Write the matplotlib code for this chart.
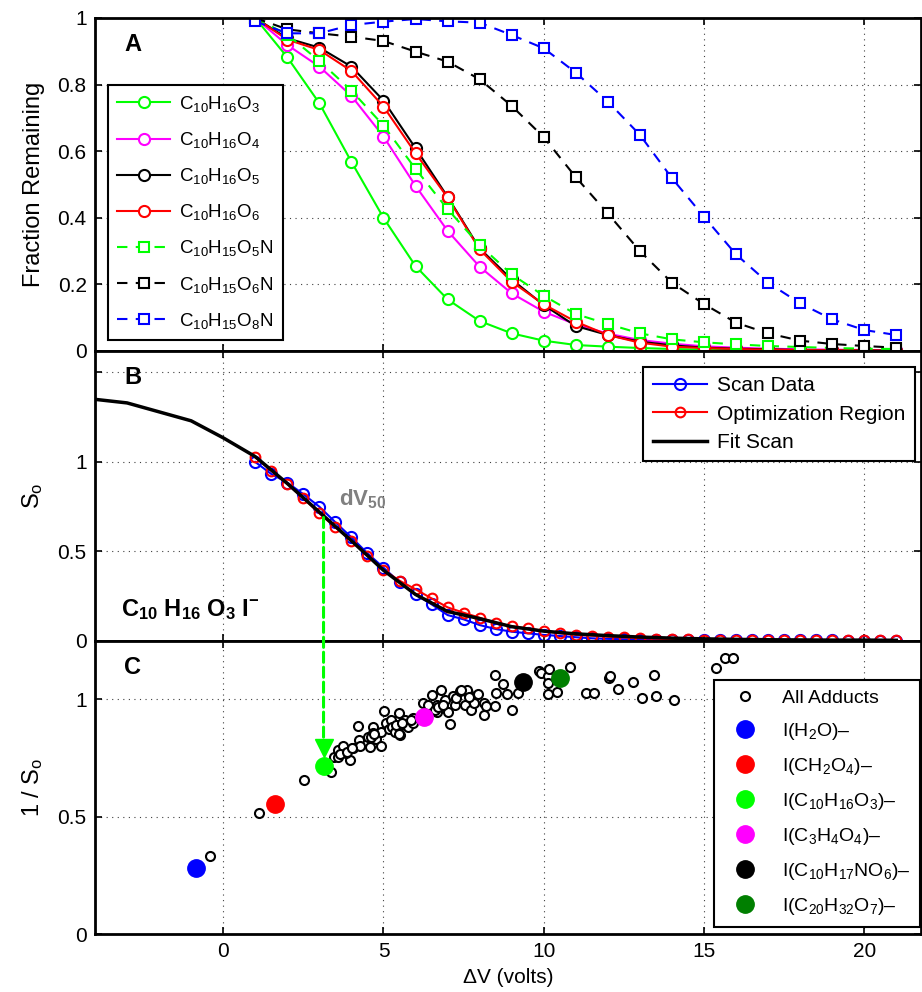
import matplotlib
matplotlib.use('Agg')
import matplotlib.pyplot as plt
from matplotlib.patches import ConnectionPatch

plt.rcParams['font.family'] = ['Liberation Sans', 'DejaVu Sans']
plt.rcParams['mathtext.fontset'] = 'custom'
plt.rcParams['mathtext.rm'] = 'Liberation Sans'
plt.rcParams['mathtext.it'] = 'Liberation Sans:italic'
plt.rcParams['mathtext.bf'] = 'Liberation Sans:bold'

# ---------------- data ----------------
# panel A: fraction remaining vs delta V
dv_a = list(range(1, 22))
c10h16o3 = [1.0, 0.882, 0.744, 0.568, 0.400, 0.255, 0.155, 0.090, 0.053, 0.031, 0.018,
            0.013, 0.009, 0.006, 0.004, 0.003, 0.002, 0.002, 0.001, 0.001, 0.001]
c10h16o4 = [1.0, 0.919, 0.854, 0.766, 0.644, 0.496, 0.361, 0.253, 0.173, 0.118, 0.080,
            0.052, 0.033, 0.022, 0.014, 0.010, 0.007, 0.005, 0.004, 0.003, 0.002]
c10h16o5 = [1.0, 0.939, 0.911, 0.854, 0.752, 0.609, 0.463, 0.308, 0.215, 0.138, 0.075,
            0.048, 0.028, 0.017, 0.010, 0.007, 0.005, 0.003, 0.002, 0.002, 0.001]
c10h16o6 = [1.0, 0.935, 0.904, 0.841, 0.734, 0.594, 0.461, 0.305, 0.208, 0.140, 0.088,
            0.048, 0.025, 0.013, 0.009, 0.006, 0.004, 0.003, 0.002, 0.002, 0.001]
c10h15o5n = [1.0, 0.950, 0.871, 0.782, 0.677, 0.547, 0.426, 0.318, 0.230, 0.166, 0.111,
             0.081, 0.053, 0.035, 0.026, 0.020, 0.015, 0.012, 0.009, 0.007, 0.006]
c10h15o6n = [1.0, 0.966, 0.954, 0.944, 0.931, 0.899, 0.869, 0.816, 0.736, 0.642, 0.522,
             0.413, 0.300, 0.205, 0.141, 0.085, 0.053, 0.031, 0.021, 0.015, 0.010]
c10h15o8n = [0.990, 0.954, 0.954, 0.979, 0.989, 0.997, 0.990, 0.986, 0.949, 0.909, 0.836,
             0.749, 0.649, 0.519, 0.403, 0.290, 0.205, 0.143, 0.095, 0.063, 0.048]

# panel B: scan of C10H16O3 I-
dv_b = [1 + 0.5 * i for i in range(41)]
scan_data = [1.0, 0.933, 0.885, 0.82, 0.75, 0.663, 0.579, 0.49, 0.41, 0.328, 0.26, 0.205,
             0.145, 0.121, 0.089, 0.067, 0.052, 0.043, 0.034, 0.028, 0.021, 0.015, 0.012,
             0.010, 0.008, 0.007, 0.006, 0.005, 0.005, 0.004, 0.004, 0.004, 0.003, 0.003,
             0.003, 0.003, 0.003, 0.002, 0.002, 0.002, 0.002]
opt_region = [1.026, 0.951, 0.877, 0.797, 0.713, 0.635, 0.559, 0.475, 0.397, 0.337, 0.289,
              0.238, 0.188, 0.158, 0.130, 0.102, 0.082, 0.071, 0.056, 0.043, 0.034, 0.030,
              0.024, 0.020, 0.016, 0.013, 0.011, 0.009, 0.008, 0.007, 0.006, 0.006, 0.005,
              0.005, 0.005, 0.004, 0.004, 0.004, 0.004, 0.004, 0.004]
dv_fit = list(range(-4, 22))
fit_scan = [1.35, 1.33, 1.28, 1.23, 1.135, 1.03, 0.88, 0.72, 0.56, 0.395, 0.26, 0.165,
            0.125, 0.08, 0.055, 0.04, 0.03, 0.022, 0.016, 0.012, 0.009, 0.007, 0.006,
            0.005, 0.005, 0.004]

# panel C: 1/So vs dV50 for all adducts
adduct_dv = [-0.40, 1.13, 2.52, 3.37, 3.47, 3.58, 3.73, 3.97, 3.84, 4.05, 4.20, 4.25, 4.27,
             4.57, 4.51, 4.67, 4.68, 4.77, 4.91, 4.93, 5.03, 5.09, 5.16, 5.24, 5.27, 5.35,
             5.47, 5.50, 5.55, 5.66, 5.74, 5.77, 5.92, 5.93, 6.23, 6.39, 6.51, 6.68, 6.68,
             6.80, 6.93, 7.01, 7.09, 7.16, 7.24, 7.25, 7.40, 7.53, 7.65, 7.72, 7.60, 7.82,
             7.95, 8.13, 8.15, 8.19, 8.47, 8.47, 8.52, 8.73, 8.86, 9.01, 9.19, 9.85, 9.90,
             10.13, 10.16, 10.13, 10.42, 3.58, 3.63, 3.86, 4.01, 4.62, 4.69, 5.38, 5.48,
             5.58, 5.87, 6.61, 6.70, 6.86, 7.43, 7.67, 10.13, 10.83, 11.33, 11.57, 12.03,
             12.07, 12.31, 12.78, 13.06, 13.43, 13.49, 14.05, 15.38, 15.67, 15.92]
adduct_inv = [0.332, 0.516, 0.654, 0.691, 0.755, 0.783, 0.800, 0.740, 0.769, 0.790, 0.885,
              0.826, 0.800, 0.797, 0.840, 0.882, 0.855, 0.832, 0.800, 0.861, 0.949, 0.896,
              0.871, 0.911, 0.880, 0.861, 0.939, 0.847, 0.889, 0.911, 0.889, 0.880, 0.899,
              0.920, 0.985, 0.974, 1.017, 0.946, 0.974, 1.038, 0.996, 0.946, 0.894, 1.013,
              0.974, 1.003, 1.035, 0.974, 1.024, 0.953, 1.040, 0.984, 1.020, 0.984, 0.932,
              0.970, 0.970, 1.102, 1.027, 1.066, 1.021, 0.953, 1.024, 1.120, 1.110, 1.100,
              1.126, 1.021, 1.031, 0.755, 0.768, 0.776, 0.793, 0.840, 0.851, 0.889, 0.851,
              0.899, 0.911, 0.953, 0.967, 0.974, 1.038, 1.010, 1.070, 1.135, 1.024, 1.024,
              1.088, 1.100, 1.041, 1.074, 1.003, 1.102, 1.013, 0.996, 1.133, 1.176, 1.173]
named_labels = ['I(H$_2$O)\u2013', 'I(CH$_2$O$_4$)\u2013', 'I(C$_{10}$H$_{16}$O$_3$)\u2013',
                'I(C$_3$H$_4$O$_4$)\u2013', 'I(C$_{10}$H$_{17}$NO$_6$)\u2013',
                'I(C$_{20}$H$_{32}$O$_7$)\u2013']
named_dv = [-0.86, 1.63, 3.13, 6.26, 9.35, 10.52]
named_inv = [0.282, 0.553, 0.716, 0.925, 1.071, 1.091]
named_colors = ['#0000FF', '#FF0000', '#00FF00', '#FF00FF', '#000000', '#007F00']

# ---------------- figure ----------------
fig = plt.figure(figsize=(9.22, 9.92), dpi=100)
left, width = 95 / 922, 826 / 922
ax_a = fig.add_axes([left, 1 - 351 / 992, width, 333 / 992])
ax_b = fig.add_axes([left, 1 - 641 / 992, width, 290 / 992])
ax_c = fig.add_axes([left, 1 - 934 / 992, width, 293 / 992])

grid_kw = dict(color='0.25', linestyle=(0, (1, 4)), linewidth=0.8)
for ax in (ax_a, ax_b, ax_c):
    ax.set_xlim(-4, 21.77)
    ax.set_xticks([0, 5, 10, 15, 20])
    ax.grid(True, **grid_kw)
    ax.tick_params(direction='in', length=5, width=1.2, top=True, right=True,
                   labelsize=15, pad=6)
    for sp in ax.spines.values():
        sp.set_linewidth(2)
    ax.set_axisbelow(True)

# panel A
series_a = [
    (c10h16o3, '#00FF00', 'o', '-', r'C$_{10}$H$_{16}$O$_3$'),
    (c10h16o4, '#FF00FF', 'o', '-', r'C$_{10}$H$_{16}$O$_4$'),
    (c10h16o5, '#000000', 'o', '-', r'C$_{10}$H$_{16}$O$_5$'),
    (c10h16o6, '#FF0000', 'o', '-', r'C$_{10}$H$_{16}$O$_6$'),
    (c10h15o5n, '#00FF00', 's', '--', r'C$_{10}$H$_{15}$O$_5$N'),
    (c10h15o6n, '#000000', 's', '--', r'C$_{10}$H$_{15}$O$_6$N'),
    (c10h15o8n, '#0000FF', 's', '--', r'C$_{10}$H$_{15}$O$_8$N'),
]
for vals, col, mk, ls, lab in series_a:
    ax_a.plot(dv_a, vals, color=col, marker=mk, linestyle=ls, linewidth=1.5,
              markersize=8 if mk == 'o' else 7, markerfacecolor='white',
              markeredgewidth=1.5, label=lab, dashes=(5, 4) if ls == '--' else (None, None))
ax_a.set_ylim(0, 1)
ax_a.set_yticks([0, 0.2, 0.4, 0.6, 0.8, 1])
ax_a.set_yticklabels(['0', '0.2', '0.4', '0.6', '0.8', '1'])
ax_a.tick_params(labelbottom=False)
ax_a.set_ylabel('Fraction Remaining', fontsize=17)
ax_a.yaxis.set_label_coords(-0.061, 0.5)
leg_a = ax_a.legend(loc='upper left', bbox_to_anchor=(0.0157, 0.80), borderaxespad=0,
                    fontsize=13.5, handlelength=2.8, labelspacing=0.86, fancybox=False,
                    framealpha=1, edgecolor='black', borderpad=0.5, handletextpad=0.5)
leg_a.get_frame().set_linewidth(1.5)
ax_a.text(0.046, 0.92, 'A', transform=ax_a.transAxes, fontsize=17, fontweight='bold',
          ha='center', va='center')

# panel B
ax_b.plot(dv_b, scan_data, color='#0000FF', marker='o', markersize=8,
          markerfacecolor='none', markeredgewidth=1.5, linewidth=1.5, label='Scan Data')
ax_b.plot(dv_b, opt_region, color='#FF0000', marker='o', markersize=7,
          markerfacecolor='none', markeredgewidth=1.5, linewidth=1.5,
          label='Optimization Region')
ax_b.plot(dv_fit, fit_scan, color='black', linewidth=2.5, label='Fit Scan')
ax_b.set_ylim(0, 1.62)
ax_b.set_yticks([0, 0.5, 1, 1.5])
ax_b.set_yticklabels(['0', '0.5', '1', ''])
ax_b.tick_params(labelbottom=False)
ax_b.set_ylabel(r'S$_\mathrm{o}$', fontsize=17)
ax_b.yaxis.set_label_coords(-0.061, 0.5)
leg_b = ax_b.legend(loc='upper right', bbox_to_anchor=(0.9927, 0.945), borderaxespad=0,
                    fontsize=15, handlelength=2.6, labelspacing=0.45, fancybox=False,
                    framealpha=1, edgecolor='black', borderpad=0.45, handletextpad=0.5)
leg_b.get_frame().set_linewidth(1.5)
ax_b.text(0.046, 0.907, 'B', transform=ax_b.transAxes, fontsize=17, fontweight='bold',
          ha='center', va='center')
ax_b.text(-3.2, 0.14, r'$\mathbf{C_{10}\ H_{16}\ O_{3}\ I^{-}}$', fontsize=17)
ax_b.text(3.6, 0.76, r'$\mathbf{dV_{50}}$', fontsize=16, color='#808080')

# panel C
ax_c.plot(adduct_dv, adduct_inv, linestyle='none', marker='o', markersize=6.5,
          markerfacecolor='white', markeredgecolor='black', markeredgewidth=1.5,
          label='All Adducts')
for xv, yv, col, lab in zip(named_dv, named_inv, named_colors, named_labels):
    ax_c.plot([xv], [yv], linestyle='none', marker='o', markersize=12.5, color=col,
              label=lab)
ax_c.set_ylim(0, 1.247)
ax_c.set_yticks([0, 0.5, 1])
ax_c.set_yticklabels(['0', '0.5', '1'])
ax_c.set_ylabel(r'1 / S$_\mathrm{o}$', fontsize=17)
ax_c.yaxis.set_label_coords(-0.061, 0.5)
ax_c.set_xlabel('\u0394V (volts)', fontsize=15, labelpad=5)
leg_c = ax_c.legend(loc='lower right', bbox_to_anchor=(0.9988, 0.024), borderaxespad=0,
                    fontsize=14, handlelength=2.2, labelspacing=0.72, fancybox=False,
                    framealpha=1, edgecolor='black', borderpad=0.5, handletextpad=0.8)
leg_c.get_frame().set_linewidth(1.5)
ax_c.text(0.046, 0.908, 'C', transform=ax_c.transAxes, fontsize=17, fontweight='bold',
          ha='center', va='center')

# dV50 arrow from panel B down to panel C
arrow_x = named_dv[2]
con = ConnectionPatch(xyA=(arrow_x, 0.69), coordsA=ax_b.transData,
                      xyB=(arrow_x, 0.80), coordsB=ax_c.transData,
                      color='#00FF00', linewidth=2.2, linestyle=(0, (3.3, 1.6)), zorder=5)
fig.add_artist(con)
ax_c.plot([arrow_x], [0.79], marker='v', markersize=13, color='#00FF00',
          linestyle='none', clip_on=False, zorder=6)

fig.savefig('out.png', dpi=100)
